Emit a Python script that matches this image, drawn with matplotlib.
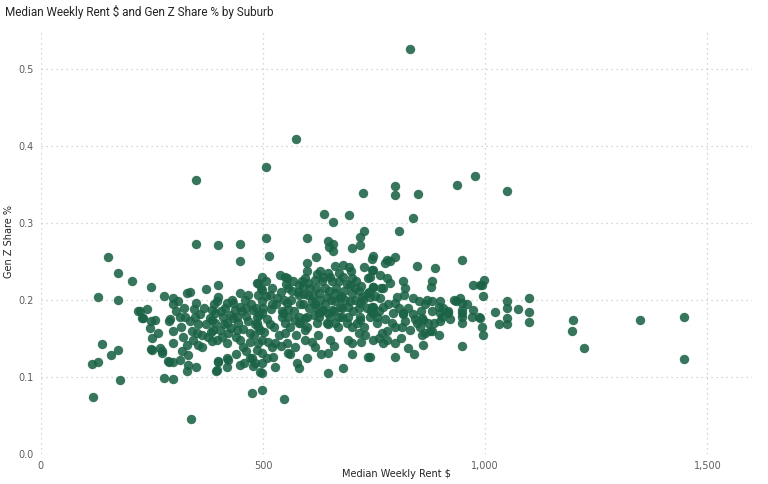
import matplotlib.pyplot as plt
from matplotlib.ticker import FuncFormatter

# Median weekly rent ($) and Gen Z share per suburb
rent = [
    830, 574, 508, 349, 977, 937, 1048, 797, 797, 848, 724, 638, 694, 658, 837, 807,
    728, 718, 718, 508, 598, 647, 658, 649, 658, 700,
    349, 399, 448, 152, 514, 448, 175, 206, 248, 130, 175, 278, 298, 310, 297, 329,
    336, 373, 399, 349, 398, 396, 218, 240, 229, 139, 158, 173, 115, 130, 178, 118,
    278, 298, 338, 476, 499, 548,
    248, 268, 274, 246, 257, 250, 289, 289, 298, 329, 332, 349, 394, 399, 419, 448,
    458, 478, 497,
    419, 433, 448, 467, 486, 490, 448, 463, 478, 224, 291, 313, 325, 347, 385, 392,
    411, 441, 463,
    231, 249, 265, 298, 298, 355, 351, 343, 321, 329, 317, 332, 355, 362, 250, 272,
    287, 313, 385, 388, 377, 396, 385, 403, 419, 422, 419, 433, 441, 448, 456, 463,
    471, 482, 486, 490, 475, 482, 422, 419, 400, 396,
]
gen_z = [
    0.526, 0.408, 0.372, 0.355, 0.361, 0.349, 0.341, 0.347, 0.336, 0.337, 0.339, 0.311,
    0.310, 0.301, 0.306, 0.289, 0.289, 0.282, 0.271, 0.280, 0.280, 0.276, 0.273, 0.269,
    0.263, 0.267,
    0.273, 0.271, 0.272, 0.255, 0.257, 0.250, 0.235, 0.224, 0.216, 0.204, 0.200, 0.205,
    0.202, 0.198, 0.194, 0.209, 0.210, 0.214, 0.219, 0.196, 0.204, 0.199, 0.185, 0.188,
    0.176, 0.143, 0.129, 0.135, 0.117, 0.119, 0.096, 0.074, 0.099, 0.097, 0.045, 0.079,
    0.083, 0.071,
    0.136, 0.137, 0.131, 0.163, 0.174, 0.150, 0.173, 0.119, 0.119, 0.108, 0.115, 0.113,
    0.108, 0.119, 0.124, 0.115, 0.118, 0.114, 0.105,
    0.196, 0.196, 0.209, 0.206, 0.222, 0.206, 0.191, 0.189, 0.187, 0.186, 0.175, 0.178,
    0.178, 0.178, 0.187, 0.183, 0.178, 0.178, 0.179,
    0.176, 0.172, 0.157, 0.159, 0.144, 0.168, 0.157, 0.148, 0.152, 0.142, 0.133, 0.129,
    0.142, 0.139, 0.135, 0.133, 0.120, 0.122, 0.174, 0.161, 0.152, 0.148, 0.146, 0.161,
    0.170, 0.157, 0.144, 0.176, 0.161, 0.148, 0.139, 0.133, 0.157, 0.168, 0.178, 0.144,
    0.124, 0.118, 0.122, 0.113, 0.120, 0.109,
]

# middle band ($490 - $750)
rent_mid = [
    619, 598, 662, 679, 694, 728, 745, 628, 621, 598, 595, 602, 617, 632, 647, 651,
    670, 681, 700, 696, 737, 745, 748,
    497, 490, 508, 538, 550, 554, 497, 516, 531, 557, 565, 580, 591, 580, 602, 610,
    617, 625, 640, 644, 662, 662, 673, 685, 700, 707, 715, 722, 718, 692, 673, 655,
    636, 621, 583, 554, 542, 520, 497, 497, 745, 737, 741, 557, 580, 598, 625, 651,
    670, 692, 718,
    486, 493, 497, 486, 497, 497, 493, 516, 520, 523, 527, 527, 546, 550, 550, 554,
    557, 572, 580, 595, 595, 572, 576, 580, 595, 598, 617, 621, 625, 647, 647, 651,
    647, 662, 677, 700, 692, 700, 715, 730, 718, 737, 647, 681,
]
gen_z_mid = [
    0.256, 0.248, 0.244, 0.245, 0.243, 0.242, 0.253, 0.238, 0.234, 0.237, 0.228, 0.222,
    0.226, 0.224, 0.235, 0.230, 0.235, 0.230, 0.228, 0.219, 0.228, 0.239, 0.217,
    0.230, 0.222, 0.224, 0.232, 0.230, 0.228, 0.213, 0.206, 0.202, 0.215, 0.211, 0.219,
    0.217, 0.206, 0.206, 0.198, 0.194, 0.209, 0.215, 0.204, 0.209, 0.198, 0.202, 0.200,
    0.209, 0.200, 0.211, 0.204, 0.196, 0.191, 0.191, 0.187, 0.187, 0.189, 0.194, 0.196,
    0.185, 0.194, 0.198, 0.183, 0.191, 0.209, 0.178, 0.178, 0.178, 0.178, 0.178, 0.178,
    0.178, 0.178, 0.178,
    0.170, 0.161, 0.148, 0.135, 0.131, 0.118, 0.107, 0.168, 0.139, 0.126, 0.113, 0.144,
    0.183, 0.170, 0.157, 0.144, 0.131, 0.174, 0.170, 0.176, 0.161, 0.139, 0.118, 0.111,
    0.148, 0.124, 0.139, 0.170, 0.183, 0.183, 0.168, 0.148, 0.131, 0.170, 0.178, 0.165,
    0.148, 0.144, 0.157, 0.155, 0.174, 0.126, 0.105, 0.112,
]

# upper band ($740+)
rent_high = [
    748, 778, 775, 797, 786, 846, 888, 948, 748, 741, 763, 778, 748, 771, 786, 816,
    820, 818, 880, 879, 998, 988, 973, 994, 943, 934, 741, 763, 801, 797, 838, 850,
    865, 880, 898, 895, 917, 947, 947, 973, 985, 748, 771, 756, 793, 816, 838, 857,
    902, 947, 970,
    748, 756, 748, 767, 771, 778, 778, 797, 797, 797, 816, 820, 831, 846, 853, 861,
    872, 857, 865, 876, 895, 861, 827, 880, 898, 898, 917, 947, 947, 947, 988, 992,
    995, 741,
    992, 1022, 1030, 1048, 1048, 1048, 1048, 1073, 1098, 1098, 1098, 1198, 1195, 1222,
    1348, 1448, 1448,
]
gen_z_high = [
    0.257, 0.252, 0.248, 0.255, 0.250, 0.244, 0.241, 0.252, 0.239, 0.230, 0.232, 0.228,
    0.217, 0.215, 0.222, 0.224, 0.215, 0.206, 0.224, 0.217, 0.226, 0.219, 0.219, 0.205,
    0.203, 0.199, 0.204, 0.202, 0.204, 0.196, 0.202, 0.198, 0.194, 0.198, 0.198, 0.191,
    0.185, 0.196, 0.187, 0.187, 0.178, 0.191, 0.191, 0.178, 0.183, 0.181, 0.181, 0.176,
    0.178, 0.178, 0.178,
    0.183, 0.170, 0.148, 0.157, 0.144, 0.148, 0.159, 0.165, 0.144, 0.126, 0.183, 0.172,
    0.161, 0.170, 0.165, 0.174, 0.170, 0.155, 0.157, 0.159, 0.155, 0.142, 0.137, 0.185,
    0.183, 0.172, 0.183, 0.183, 0.170, 0.140, 0.176, 0.165, 0.155, 0.126,
    0.219, 0.184, 0.168, 0.198, 0.189, 0.177, 0.168, 0.188, 0.203, 0.184, 0.171, 0.174,
    0.160, 0.138, 0.174, 0.178, 0.123,
]

# suburbs hidden inside the dense core of the cloud
rent_core = [
    305, 315, 322, 335, 340, 345, 358, 362, 368, 372, 380, 383, 390, 393, 405, 408,
    412, 415, 425, 428, 430, 437, 440, 445, 452, 455, 460, 466, 470, 473, 480, 484,
    488, 492, 495, 500, 503, 506, 510, 512, 517, 521, 525, 530, 535, 540, 543, 547,
    552, 556, 560, 563, 568, 570, 575, 578, 584, 587, 590, 593, 600, 603, 606, 612,
    614, 620, 623, 628, 632, 635, 640, 643, 648, 652, 656, 660, 665, 668, 672, 675,
    678, 683, 688, 690, 695, 698, 702, 706, 710, 712, 716, 720, 725, 728, 733, 738,
    742, 752, 760, 765, 775, 782, 790, 805, 812, 826, 842, 855, 868, 885, 905, 920,
    930, 960,
    440, 470, 510, 540, 560, 610, 630, 660, 700, 720, 760, 810, 840, 880,
]
gen_z_core = [
    0.185, 0.165, 0.190, 0.172, 0.160, 0.188, 0.182, 0.155, 0.190, 0.168, 0.176, 0.158,
    0.195, 0.170, 0.185, 0.152, 0.168, 0.190, 0.180, 0.163, 0.200, 0.187, 0.152, 0.170,
    0.185, 0.162, 0.200, 0.172, 0.145, 0.195, 0.155, 0.190, 0.165, 0.180, 0.215, 0.190,
    0.158, 0.205, 0.175, 0.145, 0.188, 0.215, 0.165, 0.195, 0.155, 0.210, 0.178, 0.200,
    0.220, 0.188, 0.165, 0.200, 0.225, 0.185, 0.155, 0.210, 0.170, 0.225, 0.195, 0.208,
    0.165, 0.190, 0.215, 0.205, 0.180, 0.215, 0.155, 0.200, 0.185, 0.230, 0.195, 0.170,
    0.212, 0.200, 0.225, 0.185, 0.215, 0.165, 0.225, 0.205, 0.190, 0.212, 0.220, 0.170,
    0.198, 0.238, 0.185, 0.215, 0.225, 0.170, 0.190, 0.218, 0.200, 0.165, 0.190, 0.210,
    0.185, 0.205, 0.185, 0.215, 0.175, 0.195, 0.170, 0.190, 0.165, 0.190, 0.175, 0.185,
    0.200, 0.170, 0.190, 0.175, 0.200, 0.195,
    0.130, 0.125, 0.125, 0.140, 0.130, 0.145, 0.130, 0.140, 0.130, 0.145, 0.150, 0.150,
    0.130, 0.160,
]

xs = rent + rent_mid + rent_high + rent_core
ys = gen_z + gen_z_mid + gen_z_high + gen_z_core

fig = plt.figure(figsize=(7.68, 4.84), dpi=100)
ax = fig.add_axes([0.053, 0.062, 0.926, 0.876])

ax.scatter(xs, ys, s=46, color='#1B6346', alpha=0.88, linewidths=0, zorder=3)

ax.set_xlim(0, 1600)
ax.set_ylim(0, 0.55)
ax.set_xticks([0, 500, 1000, 1500])
ax.set_yticks([0, 0.1, 0.2, 0.3, 0.4, 0.5])
ax.xaxis.set_major_formatter(FuncFormatter(lambda v, p: f'{v:,.0f}'))
ax.yaxis.set_major_formatter(FuncFormatter(lambda v, p: f'{v:.1f}'))
ax.grid(True, color='#c8c8c8', linestyle=(0, (1, 3)), linewidth=0.9, zorder=0)
for sp in ax.spines.values():
    sp.set_visible(False)
ax.tick_params(length=0, labelsize=7, colors='#605e5c', pad=5)

ax.set_xlabel('Median Weekly Rent $', fontsize=7, color='#252423')
ax.set_ylabel('Gen Z Share %', fontsize=7, color='#252423')
ax.xaxis.set_label_coords(0.5, -0.036)
ax.yaxis.set_label_coords(-0.038, 0.5)

fig.text(0.007, 0.975, 'Median Weekly Rent $ and Gen Z Share % by Suburb',
         fontsize=8.5, color='#252423', ha='left', va='center', family='Roboto')

fig.savefig('out.png', dpi=100)
